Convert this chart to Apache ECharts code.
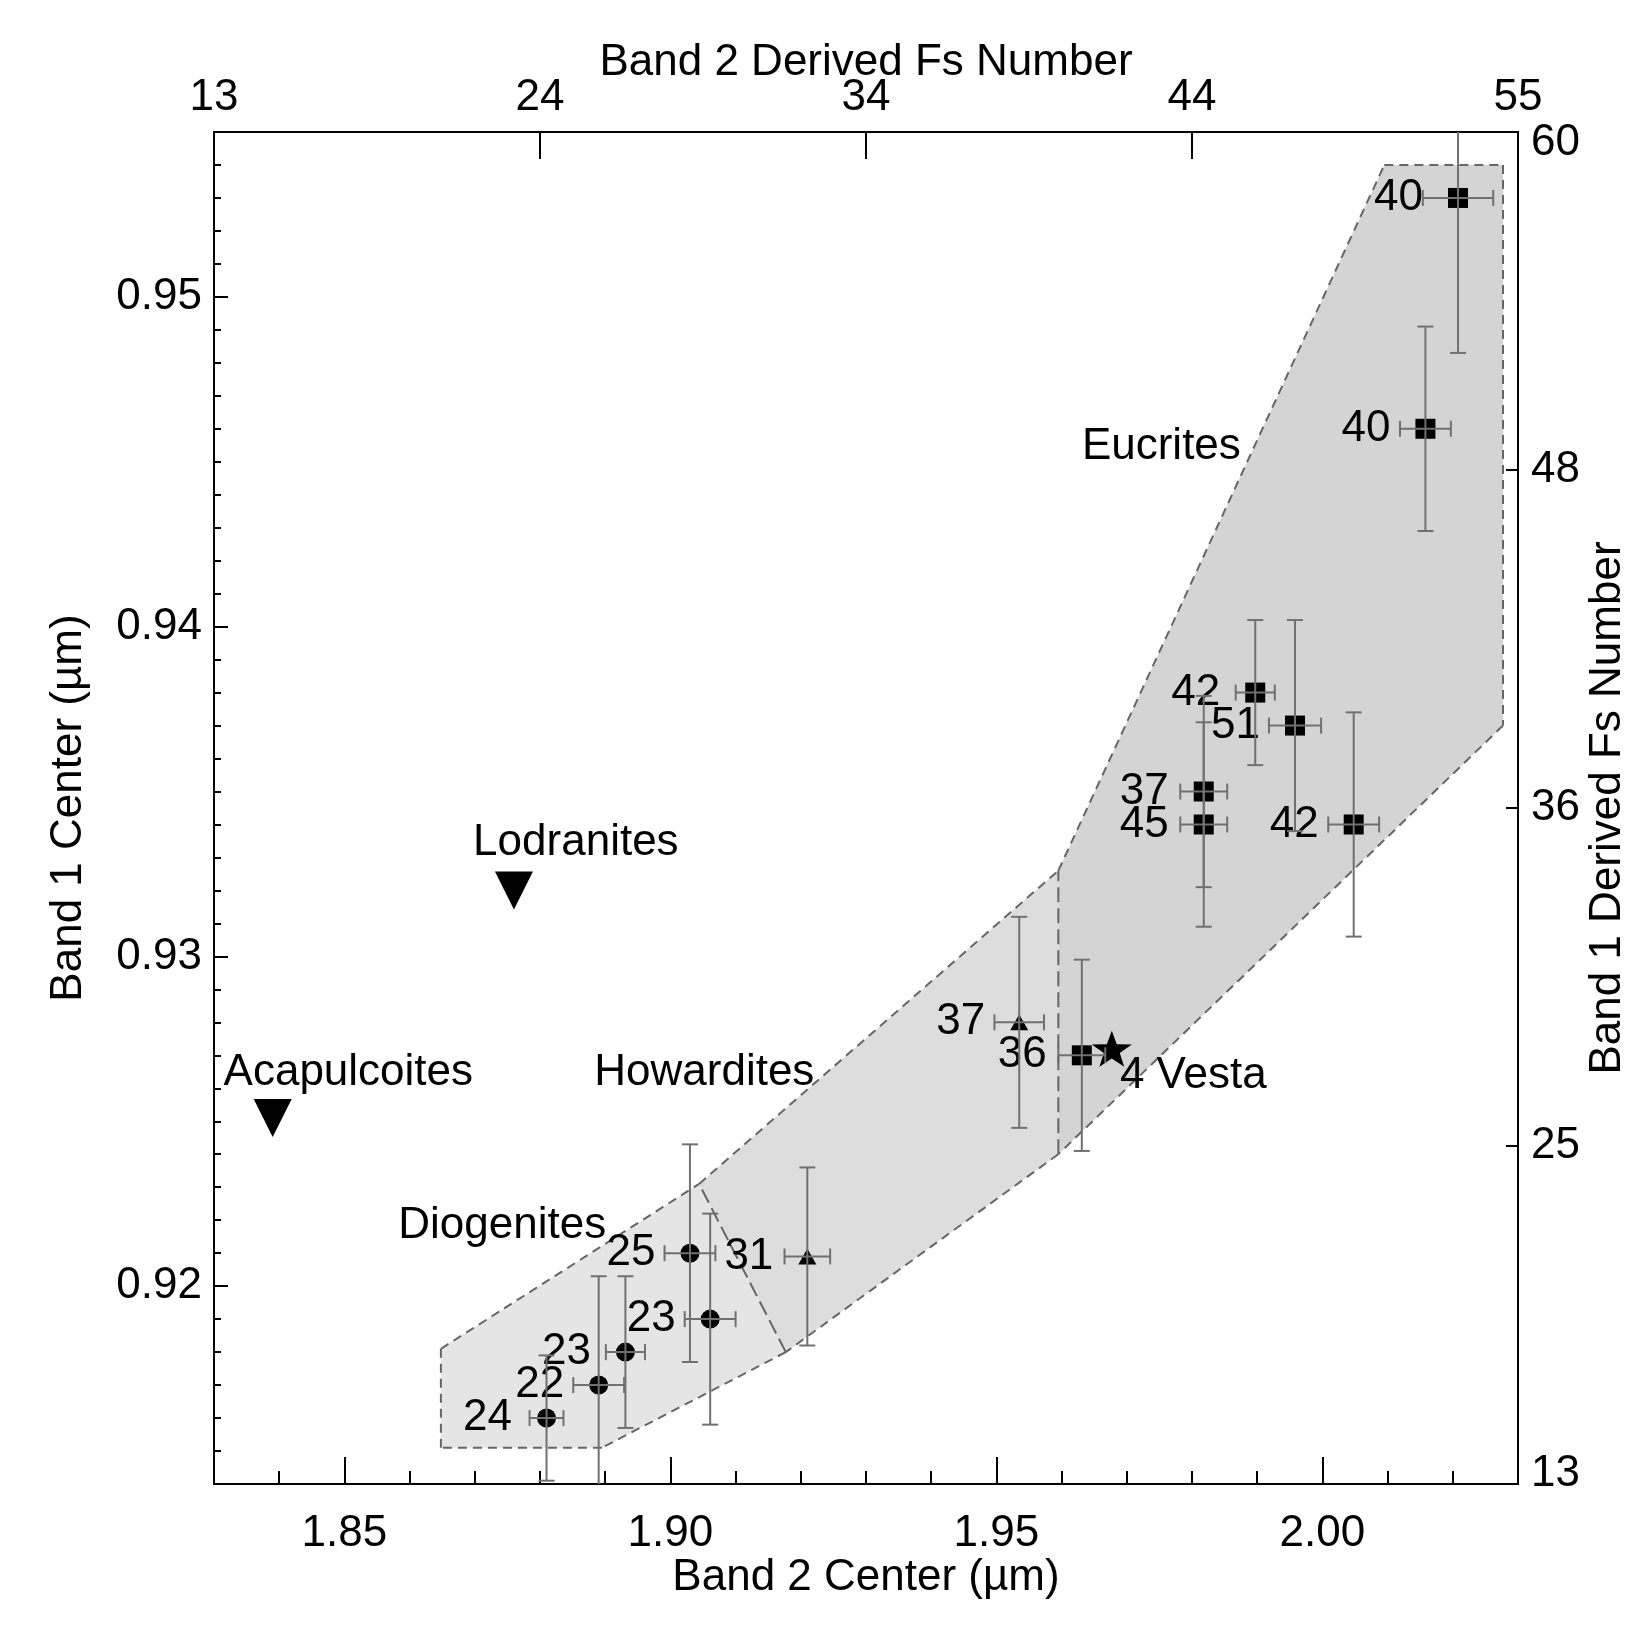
<!DOCTYPE html>
<html>
<head>
<meta charset="utf-8">
<script src="https://cdn.jsdelivr.net/npm/echarts@6/dist/echarts.min.js"></script>
<style>
  html, body { margin: 0; padding: 0; background: #fff; }
  #chart { width: 1650px; height: 1650px; }
</style>
</head>
<body>
<div id="chart"></div>
<script>
// band centers (um), derived Fs numbers and 1-sigma errors
// eucrites (squares)
var eucFs = [40, 40, 42, 51, 37, 45, 42, 36];
var eucBand2 = [2.0208, 2.0158, 1.9897, 1.9958, 1.9818, 1.9818, 2.0048, 1.9631];
var eucBand1 = [0.9530, 0.9460, 0.9380, 0.9370, 0.9350, 0.9340, 0.9340, 0.9270];
var eucBand2Err = [0.0054, 0.0039, 0.0030, 0.0040, 0.0036, 0.0036, 0.0039, 0.0036];
var eucBand1Err = [0.0047, 0.0031, 0.0022, 0.0032, 0.0029, 0.0031, 0.0034, 0.0029];
// howardites (triangles)
var howFs = [37, 31];
var howBand2 = [1.9535, 1.9210];
var howBand1 = [0.9280, 0.9209];
var howBand2Err = [0.0038, 0.0035];
var howBand1Err = [0.0032, 0.0027];
// diogenites (circles)
var dioFs = [25, 23, 23, 22, 24];
var dioBand2 = [1.9030, 1.9061, 1.8931, 1.8890, 1.8810];
var dioBand1 = [0.9210, 0.9190, 0.9180, 0.9170, 0.9160];
var dioBand2Err = [0.0039, 0.0039, 0.0030, 0.0039, 0.0026];
var dioBand1Err = [0.0033, 0.0032, 0.0023, 0.0033, 0.0019];
// 4 Vesta and primitive achondrites
var vesta = [1.9677, 0.9272];
var lodranites = [1.8760, 0.9320];
var acapulcoites = [1.8390, 0.9251];

// HED zones (band 2, band 1 vertices)
var eucZoneBand2 = [1.9595, 2.0095, 2.0277, 2.0277, 1.9595];
var eucZoneBand1 = [0.9326, 0.9540, 0.9540, 0.9370, 0.9240];
var howZoneBand2 = [1.9044, 1.9595, 1.9595, 1.9177];
var howZoneBand1 = [0.9231, 0.9326, 0.9240, 0.9180];
var dioZoneBand2 = [1.8648, 1.9044, 1.9177, 1.8895, 1.8648];
var dioZoneBand1 = [0.9181, 0.9231, 0.9180, 0.9151, 0.9151];

// text annotations
var noteText = ['Eucrites', 'Lodranites', 'Acapulcoites', 'Howardites', 'Diogenites', '4 Vesta'];
var noteBand2 = [1.9753, 1.8855, 1.8506, 1.9052, 1.8742, 1.9802];
var noteBand1 = [0.94545, 0.93344, 0.92647, 0.92647, 0.92182, 0.92637];

// axes
var band2Ticks = [1.85, 1.90, 1.95, 2.00];
var band1Ticks = [0.92, 0.93, 0.94, 0.95];
var topTickValues = [1.83, 1.88, 1.93, 1.98, 2.03];
var topTickLabels = ['13', '24', '34', '44', '55'];
var rightTickValues = [0.914, 0.92425, 0.9345, 0.94475, 0.955];
var rightTickLabels = ['13', '25', '36', '48', '60'];

var FONT = 'Liberation Sans';
var FS = 44;

var zones = [
  { b2: eucZoneBand2, b1: eucZoneBand1, fill: '#d4d4d4', longEdge: 4, skipEdge: -1 },
  { b2: howZoneBand2, b1: howZoneBand1, fill: '#dddddd', longEdge: 3, skipEdge: 1 },
  { b2: dioZoneBand2, b1: dioZoneBand1, fill: '#e5e5e5', longEdge: -1, skipEdge: 1 }
];

function zoneItem(params, api) {
  var z = zones[params.dataIndex];
  var pts = z.b2.map(function (x, k) { return api.coord([x, z.b1[k]]); });
  var children = [{ type: 'polygon', z2: 0, shape: { points: pts }, style: { fill: z.fill } }];
  for (var k = 0; k < pts.length; k++) {
    if (k === z.skipEdge) continue;
    var a = pts[k], b = pts[(k + 1) % pts.length];
    children.push({
      type: 'line', z2: 10,
      shape: { x1: a[0], y1: a[1], x2: b[0], y2: b[1] },
      style: { stroke: '#666', lineWidth: 2, lineDash: k === z.longEdge ? [15, 6] : [9, 6] }
    });
  }
  return { type: 'group', children: children };
}

function errorBarItem(params, api) {
  var x = api.value(0), y = api.value(1), ex = api.value(2), ey = api.value(3);
  var l = api.coord([x - ex, y]), r = api.coord([x + ex, y]);
  var t = api.coord([x, y + ey]), b = api.coord([x, y - ey]);
  var cap = 8;
  var style = { stroke: '#707070', lineWidth: 2 };
  return {
    type: 'group',
    children: [
      { type: 'line', shape: { x1: l[0], y1: l[1], x2: r[0], y2: r[1] }, style: style },
      { type: 'line', shape: { x1: l[0], y1: l[1] - cap, x2: l[0], y2: l[1] + cap }, style: style },
      { type: 'line', shape: { x1: r[0], y1: r[1] - cap, x2: r[0], y2: r[1] + cap }, style: style },
      { type: 'line', shape: { x1: t[0], y1: t[1], x2: b[0], y2: b[1] }, style: style },
      { type: 'line', shape: { x1: t[0] - cap, y1: t[1], x2: t[0] + cap, y2: t[1] }, style: style },
      { type: 'line', shape: { x1: b[0] - cap, y1: b[1], x2: b[0] + cap, y2: b[1] }, style: style }
    ]
  };
}

function rows(b2, b1, c, d) {
  return b2.map(function (v, i) { return [v, b1[i], c[i], d[i]]; });
}
var errData = rows(eucBand2, eucBand1, eucBand2Err, eucBand1Err)
  .concat(rows(howBand2, howBand1, howBand2Err, howBand1Err))
  .concat(rows(dioBand2, dioBand1, dioBand2Err, dioBand1Err));

function pointSeries(b2, b1, fs, symbol, size) {
  return {
    type: 'scatter', z: 3, symbol: symbol, symbolSize: size,
    itemStyle: { color: '#000', opacity: 1 },
    label: {
      show: true, position: 'left', distance: 25,
      color: '#000', fontFamily: FONT, fontSize: FS,
      formatter: function (p) { return p.value[2]; }
    },
    data: b2.map(function (v, i) { return [v, b1[i], fs[i]]; })
  };
}

var STAR = 'path://M0,-10L2.35,-3.24L9.51,-3.09L3.8,1.24L5.88,8.09L0,4L-5.88,8.09L-3.8,1.24L-9.51,-3.09L-2.35,-3.24Z';

var textStyle = { color: '#000', fontFamily: FONT, fontSize: FS };
var axisLine = { show: true, lineStyle: { color: '#000', width: 2 } };

var chart = echarts.init(document.getElementById('chart'));
chart.setOption({
  animation: false,
  backgroundColor: '#fff',
  grid: { left: 214, top: 132, right: 132, bottom: 166 },
  xAxis: [{
    // minor ticks
    type: 'value', position: 'bottom', min: 1.83, max: 2.03, interval: 0.01,
    axisLine: axisLine,
    axisTick: { inside: true, length: 13, lineStyle: { color: '#000', width: 2 } },
    axisLabel: { show: false }, splitLine: { show: false }
  }, {
    type: 'value', position: 'bottom', min: 1.83, max: 2.03,
    axisLine: { show: false },
    axisTick: { inside: true, length: 27, customValues: band2Ticks, lineStyle: { color: '#000', width: 2 } },
    axisLabel: {
      customValues: band2Ticks, margin: 28, color: '#000', fontFamily: FONT, fontSize: FS,
      formatter: function (v) { return v.toFixed(2); }
    },
    splitLine: { show: false },
    name: 'Band 2 Center (\u00b5m)', nameLocation: 'middle', nameGap: 72, nameMoveOverlap: false,
    nameTextStyle: textStyle
  }, {
    type: 'value', position: 'top', min: 1.83, max: 2.03,
    axisLine: axisLine,
    axisTick: { inside: true, length: 27, customValues: topTickValues.slice(1, 4), lineStyle: { color: '#000', width: 2 } },
    axisLabel: {
      customValues: topTickValues, margin: 12, color: '#000', fontFamily: FONT, fontSize: FS,
      formatter: function (v) {
        for (var k = 0; k < topTickValues.length; k++) {
          if (Math.abs(topTickValues[k] - v) < 1e-6) return topTickLabels[k];
        }
        return '';
      }
    },
    splitLine: { show: false },
    name: 'Band 2 Derived Fs Number', nameLocation: 'middle', nameGap: 47, nameMoveOverlap: false,
    nameTextStyle: textStyle
  }],
  yAxis: [{
    type: 'value', position: 'left', min: 0.914, max: 0.955, interval: 0.001,
    axisLine: axisLine,
    axisTick: { inside: true, length: 7, lineStyle: { color: '#000', width: 2 } },
    axisLabel: { show: false }, splitLine: { show: false }
  }, {
    type: 'value', position: 'left', min: 0.914, max: 0.955,
    axisLine: { show: false },
    axisTick: { inside: true, length: 14, customValues: band1Ticks, lineStyle: { color: '#000', width: 2 } },
    axisLabel: {
      customValues: band1Ticks, margin: 12, color: '#000', fontFamily: FONT, fontSize: FS,
      formatter: function (v) { return v.toFixed(2); }
    },
    splitLine: { show: false },
    name: 'Band 1 Center (\u00b5m)', nameLocation: 'middle', nameGap: 123, nameMoveOverlap: false,
    nameTextStyle: textStyle
  }, {
    type: 'value', position: 'right', min: 0.914, max: 0.955,
    axisLine: axisLine,
    axisTick: { inside: true, length: 12, customValues: rightTickValues.slice(1, 4), lineStyle: { color: '#000', width: 2 } },
    axisLabel: {
      customValues: rightTickValues, margin: 13, color: '#000', fontFamily: FONT, fontSize: FS,
      formatter: function (v) {
        for (var k = 0; k < rightTickValues.length; k++) {
          if (Math.abs(rightTickValues[k] - v) < 1e-6) {
            if (k === 0) return '{lo|' + rightTickLabels[k] + '}';
            if (k === rightTickValues.length - 1) return '{hi|' + rightTickLabels[k] + '}';
            return rightTickLabels[k];
          }
        }
        return '';
      },
      rich: {
        lo: { fontFamily: FONT, fontSize: FS, color: '#000', padding: [0, 0, 20, 0] },
        hi: { fontFamily: FONT, fontSize: FS, color: '#000', padding: [22, 0, 0, 0] }
      }
    },
    splitLine: { show: false },
    name: 'Band 1 Derived Fs Number', nameLocation: 'middle', nameGap: 68, nameMoveOverlap: false,
    nameTextStyle: textStyle
  }],
  series: [{
    type: 'custom', z: 1, renderItem: zoneItem, silent: true,
    data: zones.map(function (z, i) { return [z.b2[0], z.b1[0], i]; })
  },
  pointSeries(eucBand2, eucBand1, eucFs, 'rect', 20),
  pointSeries(howBand2, howBand1, howFs, 'triangle', [18, 16]),
  pointSeries(dioBand2, dioBand1, dioFs, 'circle', 19),
  {
    type: 'scatter', z: 3, symbol: STAR, symbolSize: [40, 38], symbolKeepAspect: true,
    itemStyle: { color: '#000', opacity: 1 }, data: [vesta]
  }, {
    type: 'scatter', z: 3, symbol: 'triangle', symbolRotate: 180, symbolSize: [38, 38],
    itemStyle: { color: '#000', opacity: 1 }, data: [lodranites, acapulcoites]
  }, {
    type: 'custom', z: 4, renderItem: errorBarItem, clip: true, silent: true,
    data: errData
  }, {
    type: 'scatter', z: 5, symbolSize: 0, silent: true,
    itemStyle: { opacity: 1 },
    label: {
      show: true, position: 'inside', color: '#000', fontFamily: FONT, fontSize: FS,
      formatter: function (p) { return p.name; }
    },
    data: noteText.map(function (t, i) { return { name: t, value: [noteBand2[i], noteBand1[i]] }; })
  }]
});
</script>
</body>
</html>
